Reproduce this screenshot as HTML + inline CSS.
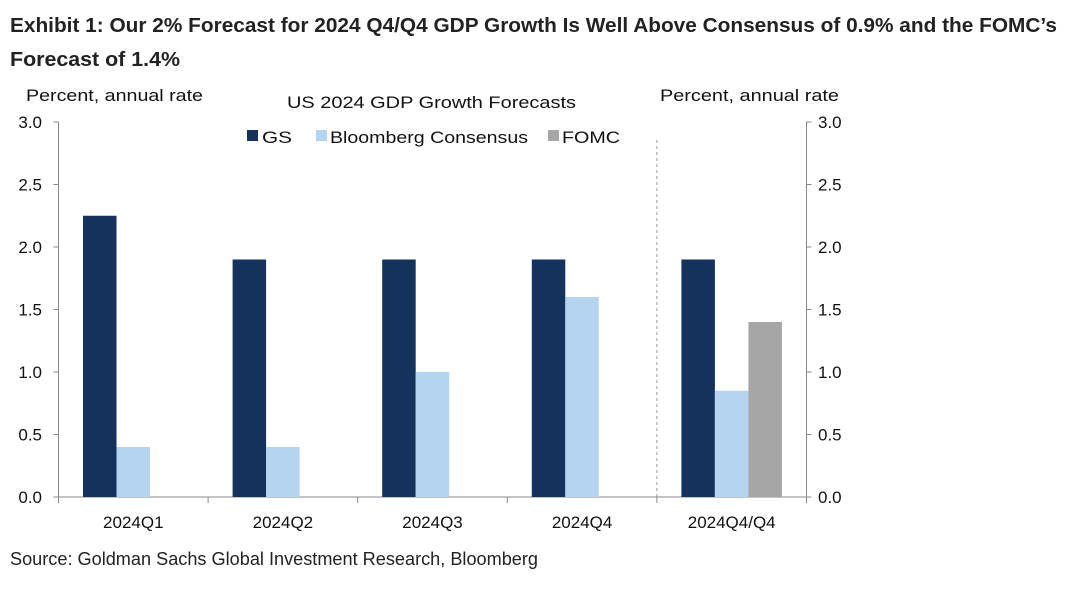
<!DOCTYPE html>
<html><head><meta charset="utf-8"><style>
body{margin:0;background:#fff;}
svg text{font-family:"Liberation Sans",Arial,sans-serif;}
</style></head><body>
<svg id="chart" width="1081" height="588" viewBox="0 0 1081 588" xmlns="http://www.w3.org/2000/svg">
<text x="10" y="32" font-size="20" font-weight="bold" fill="#222" textLength="1047" lengthAdjust="spacingAndGlyphs">Exhibit 1: Our 2% Forecast for 2024 Q4/Q4 GDP Growth Is Well Above Consensus of 0.9% and the FOMC’s</text>
<text x="10" y="66" font-size="20" font-weight="bold" fill="#222" textLength="170" lengthAdjust="spacingAndGlyphs">Forecast of 1.4%</text>
<text x="26" y="101" font-size="17" fill="#111" textLength="177" lengthAdjust="spacingAndGlyphs">Percent, annual rate</text>
<text x="660" y="101" font-size="17" fill="#111" textLength="179" lengthAdjust="spacingAndGlyphs">Percent, annual rate</text>
<text x="287" y="108" font-size="17" fill="#111" textLength="289" lengthAdjust="spacingAndGlyphs">US 2024 GDP Growth Forecasts</text>
<g id="legend"></g>
<g id="axes"></g>
<g id="bars"></g>
<text x="10" y="565" font-size="18" fill="#222" textLength="528" lengthAdjust="spacingAndGlyphs">Source: Goldman Sachs Global Investment Research, Bloomberg</text>
</svg>
<script>
const categories = ["2024Q1","2024Q2","2024Q3","2024Q4","2024Q4/Q4"];
const seriesNames = ["GS","Bloomberg Consensus","FOMC"];
const gsValues = [2.25,1.9,1.9,1.9,1.9];
const bbgValues = [0.4,0.4,1.0,1.6,0.85];
const fomcValues = [null,null,null,null,1.4];
const yTicks = [0,0.5,1,1.5,2,2.5,3];
const yTickLabels = ["0.0","0.5","1.0","1.5","2.0","2.5","3.0"];

const NS="http://www.w3.org/2000/svg";
const colors=["#14325c","#b4d4f0","#a6a6a6"];
const x0=58.5,x1=806.5,yTop=122,yBot=497;
const catW=(x1-x0)/categories.length;
const y=v=>yBot-(v-0)/(3-0)*(yBot-yTop);
const cx=i=>x0+i*catW;
function mk(tag,attrs,parent,text){const e=document.createElementNS(NS,tag);for(const k in attrs)e.setAttribute(k,attrs[k]);if(text!=null)e.textContent=text;parent.appendChild(e);return e;}
const axes=document.getElementById('axes'),bars=document.getElementById('bars'),legend=document.getElementById('legend');
let a=mk('line',{x1:x0,y1:yTop,x2:x0,y2:yBot,stroke:'#888','stroke-width':1},axes);


a=mk('line',{x1:x1,y1:yTop,x2:x1,y2:yBot,stroke:'#888','stroke-width':1},axes);


a=mk('line',{x1:x0,y1:yBot,x2:x1,y2:yBot,stroke:'#888','stroke-width':1},axes);


yTicks.forEach((t,i)=>{
  mk('line',{x1:x0-5,y1:y(t),x2:x0,y2:y(t),stroke:'#888'},axes);
  mk('line',{x1:x1,y1:y(t),x2:x1+5,y2:y(t),stroke:'#888'},axes);
  let l=mk('text',{x:42,y:y(t)+6,'font-size':17,fill:'#111','text-anchor':'end'},axes,yTickLabels[i]);
  
  
  l=mk('text',{x:818,y:y(t)+6,'font-size':17,fill:'#111'},axes,yTickLabels[i]);
  
  
});
for(let i=0;i<=categories.length;i++){mk('line',{x1:cx(i),y1:yBot,x2:cx(i),y2:yBot+6,stroke:'#888'},axes);}
categories.forEach((c,i)=>{
  const l=mk('text',{x:cx(i)+catW/2,y:528,'font-size':17,fill:'#111','text-anchor':'middle'},axes,c);
  
  
});
const sep=mk('line',{x1:cx(4),y1:140,x2:cx(4),y2:yBot,stroke:'#999','stroke-dasharray':'3,3'},axes);


const bw=33.5,off=24.5;
[gsValues,bbgValues,fomcValues].forEach((vals,s)=>{
  vals.forEach((v,i)=>{
    if(v==null)return;
    const r=mk('rect',{x:cx(i)+off+s*bw,y:y(v),width:bw,height:yBot-y(v),fill:colors[s]},bars);
    
    
  });
});
const lsq=[247,316,548],ltx=[262,330,562],lw=[30,198,58];
seriesNames.forEach((n,s)=>{
  mk('rect',{x:lsq[s],y:130,width:11,height:11,fill:colors[s]},legend);
  const t=mk('text',{x:ltx[s],y:143,'font-size':17,fill:'#111',textLength:lw[s],lengthAdjust:'spacingAndGlyphs'},legend,n);
  
  
});
</script>
</body></html>
